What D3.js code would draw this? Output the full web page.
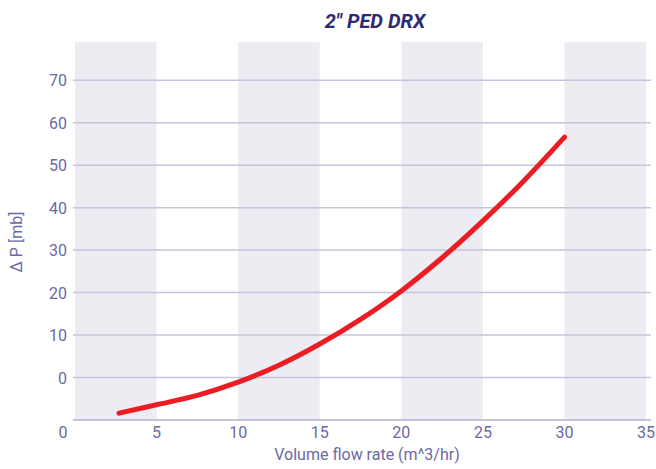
<!DOCTYPE html>
<html lang="en">
<head>
<meta charset="utf-8">
<title>2" PED DRX</title>
<script src="https://d3js.org/d3.v7.min.js"></script>
<style>
  body { margin: 0; background: #fff; }
  text { font-family: Roboto, "DejaVu Sans", sans-serif; }
</style>
</head>
<body>
<div id="chart"></div>
<script>
// data
var flowRate = [2.7, 5, 7.5, 10, 12.5, 15, 17.5, 20, 22.5, 25, 27.5, 30];
var pressureDrop = [-8.4, -6.4, -4.2, -1.1, 2.9, 7.9, 13.7, 20.4, 28.2, 36.9, 46.3, 56.6];
var xTicks = [0, 5, 10, 15, 20, 25, 30, 35];
var yTicks = [0, 10, 20, 30, 40, 50, 60, 70];
var bands = [[0, 5], [10, 15], [20, 25], [30, 35]];

var w = 656, h = 469;
var margin = {top: 42, right: 5, bottom: 49, left: 73};

var svg = d3.select("#chart").append("svg")
  .attr("width", w)
  .attr("height", h);

var xScale = d3.scaleLinear()
  .domain([-0.12, 35.3])
  .range([margin.left, w - margin.right]);

var yScale = d3.scaleLinear()
  .domain([-10, 79])
  .range([h - margin.bottom, margin.top]);

var tickColor = "#6b69a6";

// shaded bands
svg.append("g").selectAll("rect")
  .data(bands)
  .enter().append("rect")
  .attr("x", function(d) { return xScale(Math.max(d[0], xScale.domain()[0])); })
  .attr("y", yScale(79))
  .attr("width", function(d) { return xScale(d[1]) - xScale(Math.max(d[0], xScale.domain()[0])); })
  .attr("height", yScale(-10) - yScale(79))
  .attr("fill", "#edecf3");

// grid lines
svg.append("g").selectAll("line")
  .data(yTicks)
  .enter().append("line")
  .attr("x1", xScale.range()[0])
  .attr("x2", xScale.range()[1])
  .attr("y1", function(d) { return yScale(d); })
  .attr("y2", function(d) { return yScale(d); })
  .attr("stroke", "#c6c4dd")
  .attr("stroke-width", 1.5);

// bottom axis line
svg.append("line")
  .attr("x1", xScale.range()[0])
  .attr("x2", xScale.range()[1])
  .attr("y1", yScale(-10))
  .attr("y2", yScale(-10))
  .attr("stroke", "#b3b1d2")
  .attr("stroke-width", 1.5);

// y tick labels
svg.append("g").selectAll("text")
  .data(yTicks)
  .enter().append("text")
  .attr("x", 67)
  .attr("y", function(d) { return yScale(d) + 6; })
  .attr("text-anchor", "end")
  .attr("font-size", 16)
  .attr("fill", tickColor)
  .text(function(d) { return d; });

// x tick labels
svg.append("g").selectAll("text")
  .data(xTicks)
  .enter().append("text")
  .attr("x", function(d) { return d == 0 ? 63 : xScale(d); })
  .attr("y", 438)
  .attr("text-anchor", "middle")
  .attr("font-size", 16)
  .attr("fill", tickColor)
  .text(function(d) { return d; });

// curve
var line = d3.line()
  .x(function(d, i) { return xScale(flowRate[i]); })
  .y(function(d) { return yScale(d); })
  .curve(d3.curveMonotoneX);

svg.append("path")
  .datum(pressureDrop)
  .attr("d", line)
  .attr("fill", "none")
  .attr("stroke", "#ec1c24")
  .attr("stroke-width", 5)
  .attr("stroke-linecap", "round");

// title
svg.append("text")
  .attr("x", 375)
  .attr("y", 28)
  .attr("text-anchor", "middle")
  .attr("font-size", 20)
  .attr("font-weight", "bold")
  .attr("font-style", "italic")
  .attr("fill", "#2d2a76")
  .text('2" PED DRX');

// axis titles
svg.append("text")
  .attr("x", 367)
  .attr("y", 460)
  .attr("text-anchor", "middle")
  .attr("font-size", 16)
  .attr("fill", tickColor)
  .text("Volume flow rate (m^3/hr)");

svg.append("text")
  .attr("transform", "translate(22,242) rotate(-90)")
  .attr("text-anchor", "middle")
  .attr("font-size", 16)
  .attr("fill", tickColor)
  .text("\u2206 P [mb]");
</script>
</body>
</html>
